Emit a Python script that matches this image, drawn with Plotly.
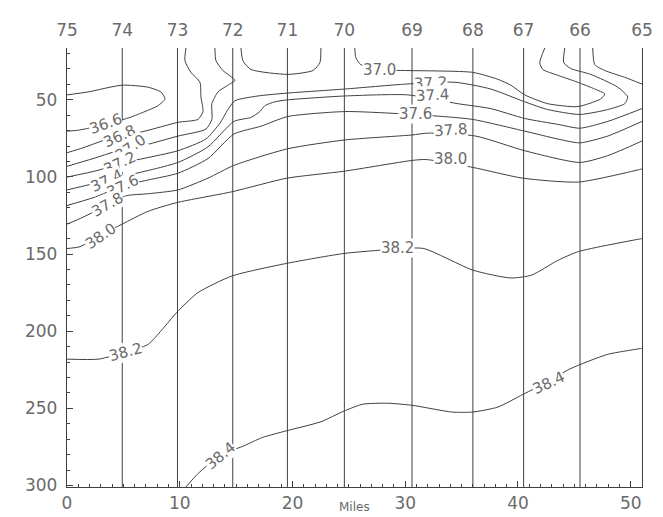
import plotly.graph_objects as go

# ---------------- data ----------------
station_names = ["75", "74", "73", "72", "71", "70", "69", "68", "67", "66", "65"]
station_mi = [0.0, 4.9, 9.8, 14.7, 19.55, 24.6, 30.6, 36.0, 40.5, 45.5, 51.0]

depth_top = 16.4
depth_bottom = 301.0

x_ticks = [0, 10, 20, 30, 40, 50]
y_ticks = [50, 100, 150, 200, 250, 300]

# salinity isolines (miles, depth)
s366_mi = [0, 1.86, 4.88, 7.18, 8.33, 8.69, 8.07, 6.91, 5.59, 4.08, 2.30, 0.98, 0]
s366_dp = [46.8, 44.9, 40.5, 41.8, 44.9, 49.4, 53.8, 57.6, 61.4, 64.6, 67.8, 69.7, 70.3]

s368_mi = [0, 1.42, 3.63, 6.91, 9.84, 11.61, 12.06, 11.88, 11.79, 10.99, 10.46, 10.55]
s368_dp = [84.3, 81.1, 75.4, 70.3, 64.6, 62.7, 57.6, 48.1, 38.6, 32.2, 24.6, 16.4]

s370a_mi = [0, 2.30, 4.52, 7.00, 9.84, 12.32, 12.85, 12.85, 13.39, 14.27, 14.89, 13.83, 13.21, 13.12]
s370a_dp = [93.1, 88.1, 83.0, 79.2, 73.5, 69.0, 62.7, 52.5, 44.9, 40.5, 37.3, 31.0, 24.6, 16.4]

s370b_mi = [15.43, 15.60, 16.31, 19.59, 21.81, 22.43, 22.52]
s370b_dp = [16.4, 24.6, 30.3, 33.5, 31.0, 25.9, 16.4]

s370c_mi = [25.53, 25.62, 26.06, 28.0, 30.05, 35.99, 38.21, 39.36, 40.60, 42.64, 45.30, 47.34,
            47.70, 46.81, 45.30, 43.53, 42.20, 41.93, 42.38]
s370c_dp = [16.4, 22.7, 27.2, 30.5, 31.0, 32.2, 36.7, 40.5, 46.8, 52.5, 54.4, 49.4,
            46.2, 43.0, 38.6, 34.1, 30.3, 25.9, 16.4]

s372_mi = [0, 2.75, 4.70, 6.74, 9.84, 12.32, 13.56, 14.27, 14.89, 16.93, 19.59, 24.65, 30.05,
           34.40, 37.59, 40.60, 42.64, 45.48, 47.96, 49.47, 49.73, 48.85, 46.45, 44.68, 44.06, 44.15]
s372_dp = [100.1, 95.7, 91.2, 88.1, 83.0, 75.4, 65.2, 56.3, 50.6, 47.5, 45.6, 43.0, 39.8,
           38.6, 43.0, 51.3, 56.3, 59.5, 56.3, 52.5, 48.1, 41.8, 33.5, 29.7, 25.9, 16.4]

s372b_mi = [46.63, 46.81, 47.70, 49.47, 51.0]
s372b_dp = [16.4, 27.2, 31.0, 35.4, 39.8]

s374_mi = [0, 1.86, 3.46, 5.41, 9.84, 12.50, 14.80, 16.31, 17.11, 17.55, 18.44, 19.59, 24.65,
           30.23, 34.66, 37.59, 40.60, 43.53, 45.48, 47.96, 51.0]
s374_dp = [108.4, 105.2, 102.0, 98.9, 90.6, 80.5, 64.0, 61.4, 57.6, 53.8, 51.3, 50.0, 47.5,
           46.8, 52.5, 55.7, 62.1, 65.9, 68.4, 64.0, 55.7]

s376_mi = [0, 2.30, 4.96, 7.18, 9.84, 12.50, 14.80, 17.20, 19.59, 24.65, 29.34, 33.33, 35.99,
           40.60, 43.53, 45.48, 47.96, 51.0]
s376_dp = [118.5, 113.5, 105.8, 102.0, 97.6, 88.1, 72.2, 67.1, 60.8, 57.6, 58.9, 60.8, 62.7,
           70.3, 75.4, 77.9, 73.5, 64.0]

s378_mi = [0, 1.42, 3.55, 5.23, 7.18, 9.84, 12.50, 14.80, 19.59, 24.65, 30.59, 32.0, 36.26,
           40.60, 45.48, 47.96, 51.0]
s378_dp = [130.6, 126.1, 118.3, 112.2, 110.9, 108.4, 100.8, 92.5, 81.7, 76.0, 72.8, 71.6, 73.5,
           83.0, 90.6, 86.2, 76.7]

s380_mi = [0, 1.15, 3.01, 4.88, 7.18, 9.75, 14.63, 19.50, 24.56, 30.59, 31.83, 35.99, 40.43,
           45.39, 50.89, 51.0]
s380_dp = [146.4, 145.2, 137.6, 130.6, 122.3, 116.6, 109.6, 100.8, 96.3, 89.3, 88.7, 93.8, 100.8,
           103.3, 95.0, 94.8]

s382_mi = [0, 2.8, 5.23, 7.18, 8.42, 9.75, 11.61, 14.63, 19.50, 24.56, 27.39, 29.34, 31.65,
           35.99, 39.36, 41.22, 43.53, 45.39, 50.89, 51.0]
s382_dp = [218.1, 218.1, 213.5, 208.6, 199.1, 187.7, 175.0, 164.2, 156.0, 149.6, 147.7, 146.5, 146.4,
           160.4, 165.5, 163.6, 154.1, 148.3, 140.1, 140.0]

s384_mi = [10.55, 11.61, 13.6, 15.60, 17.33, 19.50, 22.52, 24.56, 26.24, 28.46, 30.59, 34.13,
           35.99, 38.21, 40.43, 42.73, 44.59, 47.96, 50.89, 51.0]
s384_dp = [301.0, 292.4, 280.3, 274.6, 268.9, 264.5, 258.7, 251.8, 247.3, 246.7, 248.0, 252.4,
           252.4, 249.2, 241.0, 232.5, 224.5, 215.0, 211.2, 211.0]

isolines = [
    (s366_mi, s366_dp), (s368_mi, s368_dp), (s370a_mi, s370a_dp), (s370b_mi, s370b_dp),
    (s370c_mi, s370c_dp), (s372_mi, s372_dp), (s372b_mi, s372b_dp), (s374_mi, s374_dp),
    (s376_mi, s376_dp), (s378_mi, s378_dp), (s380_mi, s380_dp), (s382_mi, s382_dp),
    (s384_mi, s384_dp),
]

label_text = ["36.6", "36.8", "37.0", "37.2", "37.4", "37.6", "37.8", "38.0", "38.2", "38.4",
              "37.0", "37.2", "37.4", "37.6", "37.8", "38.0", "38.2", "38.4"]
label_mi = [3.37, 4.70, 5.59, 4.70, 3.46, 4.96, 3.55, 3.01, 5.23, 13.6,
            27.75, 32.2, 32.45, 30.94, 34.04, 34.04, 29.34, 42.73]
label_dp = [65.5, 73.6, 81.3, 90.8, 102.3, 105.8, 118.3, 138.3, 213.5, 281.0,
            30.6, 39.3, 46.9, 58.9, 69.3, 88.5, 146.0, 233.5]

# ---------------- styles ----------------
label_angle = [-20, -25, -35, -25, -25, -25, -30, -35, -15, -40,
               0, -3, -3, 0, -4, 0, 0, -25]
INK = "#404040"
TXT = "#6a6a6a"
FONT = "DejaVu Sans"

fig = go.Figure()

for m in station_mi[1:-1]:
    fig.add_trace(go.Scatter(x=[m, m], y=[depth_top, depth_bottom], mode="lines",
                             line=dict(color=INK, width=1.0), hoverinfo="skip",
                             showlegend=False))

for xs, ys in isolines:
    fig.add_trace(go.Scatter(x=xs, y=ys, mode="lines",
                             line=dict(color=INK, width=1.0, shape="spline", smoothing=0.6),
                             hoverinfo="skip", showlegend=False))

# invisible trace for the top (station) axis
fig.add_trace(go.Scatter(x=station_mi, y=[depth_top] * len(station_mi), xaxis="x2",
                         mode="markers", marker=dict(opacity=0), hoverinfo="skip",
                         showlegend=False))

for t, m, d, a in zip(label_text, label_mi, label_dp, label_angle):
    fig.add_annotation(x=m, y=d, xref="x", yref="y", text=t, showarrow=False,
                       textangle=a, font=dict(family=FONT, size=15, color=TXT),
                       bgcolor="white", borderpad=0)

fig.add_annotation(x=0.5, y=0, xref="paper", yref="paper", text="Miles", showarrow=False,
                   yanchor="top", yshift=-11, font=dict(family=FONT, size=12, color=TXT))

fig.update_layout(
    width=663, height=517,
    margin=dict(l=59, r=29, t=35, b=33),
    paper_bgcolor="white", plot_bgcolor="white",
    font=dict(family=FONT, color=TXT),
    xaxis=dict(range=[0, 51], tickvals=x_ticks, ticktext=[str(v) for v in x_ticks],
               ticks="inside", ticklen=6, tickcolor=INK, showline=True, linecolor=INK,
               linewidth=1.3, showgrid=False, zeroline=False,
               tickfont=dict(family=FONT, size=17, color=TXT),
               minor=dict(tickvals=list(range(0, 52)), ticks="inside", ticklen=3,
                          tickcolor=INK, showgrid=False)),
    xaxis2=dict(range=[0, 51], overlaying="x", side="top", tickvals=station_mi,
                ticktext=station_names, ticks="", showline=False, showgrid=False,
                zeroline=False, ticklabelstandoff=8,
                tickfont=dict(family=FONT, size=17, color=TXT)),
    yaxis=dict(range=[depth_bottom, depth_top], tickvals=y_ticks,
               ticktext=[str(v) for v in y_ticks], ticks="inside", ticklen=6,
               tickcolor=INK, showline=True, linecolor=INK, linewidth=1.3, mirror=True,
               showgrid=False, zeroline=False, ticklabelstandoff=5,
               tickfont=dict(family=FONT, size=17, color=TXT),
               minor=dict(tickvals=list(range(20, 301, 10)), ticks="inside", ticklen=3,
                          tickcolor=INK, showgrid=False)),
)

fig.write_html("out.html")
